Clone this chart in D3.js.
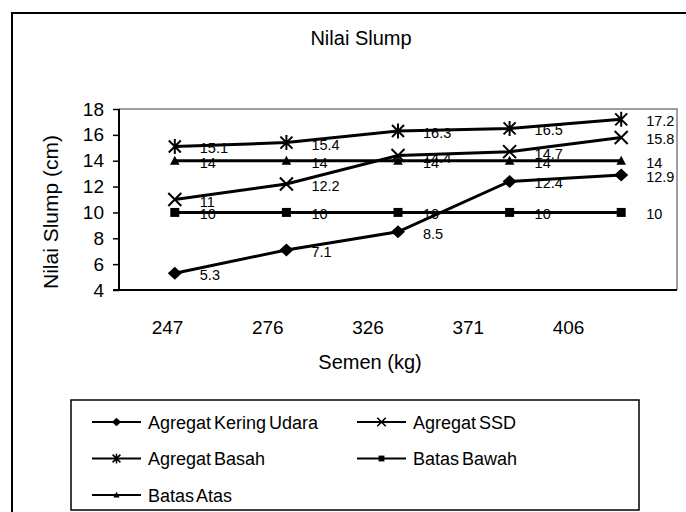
<!DOCTYPE html>
<html>
<head>
<meta charset="utf-8">
<script src="https://cdn.jsdelivr.net/npm/d3@7"></script>
<style>
  body { margin: 0; background: #fff; }
  text { font-family: "Liberation Sans", Arial, sans-serif; fill: #000; }
</style>
</head>
<body>
<div id="chart"></div>
<script>
let categories = ["247", "276", "326", "371", "406"];
let y_ticks = [4, 6, 8, 10, 12, 14, 16, 18];

let kering_udara = [5.3, 7.1, 8.5, 12.4, 12.9];
let agregat_ssd = [11, 12.2, 14.4, 14.7, 15.8];
let agregat_basah = [15.1, 15.4, 16.3, 16.5, 17.2];
let batas_bawah = [10, 10, 10, 10, 10];
let batas_atas = [14, 14, 14, 14, 14];

let series_names = ["Agregat Kering Udara", "Agregat SSD", "Agregat Basah", "Batas Bawah", "Batas Atas"];
let series_values = [kering_udara, agregat_ssd, agregat_basah, batas_bawah, batas_atas];
let series_marker = ["diamond", "times", "asterisk", "square", "triangle"];

let width = 686;
let height = 512;

let plot_left = 119, plot_right = 677, plot_top = 109, plot_bottom = 290;

// marker shapes as paths, s = scale
function marker_path(type, s) {
    if (type == "diamond") {
        return "M0," + (-6.5 * s) + "L" + (7 * s) + ",0L0," + (6.5 * s) + "L" + (-7 * s) + ",0Z";
    }
    if (type == "square") {
        return "M" + (-4.5 * s) + "," + (-4.5 * s) + "h" + (9 * s) + "v" + (9 * s) + "h" + (-9 * s) + "Z";
    }
    if (type == "triangle") {
        return "M0," + (-5 * s) + "L" + (4.8 * s) + "," + (4 * s) + "L" + (-4.8 * s) + "," + (4 * s) + "Z";
    }
    if (type == "times") {
        let h = 6.5 * s;
        return "M" + (-h) + "," + (-h) + "L" + h + "," + h + "M" + h + "," + (-h) + "L" + (-h) + "," + h;
    }
    // asterisk
    let h = 6 * s;
    return "M" + (-h) + "," + (-h) + "L" + h + "," + h + "M" + h + "," + (-h) + "L" + (-h) + "," + h +
           "M0," + (-7.5 * s) + "L0," + (7.5 * s);
}

function is_stroke_marker(type) {
    return type == "times" || type == "asterisk";
}

let svg = d3.select("#chart")
    .append("svg")
    .attr("width", width)
    .attr("height", height);

// outer frame (runs off the right and bottom edge)
svg.append("rect")
    .attr("x", 12)
    .attr("y", 13)
    .attr("width", width + 20)
    .attr("height", height + 20)
    .attr("fill", "none")
    .attr("stroke", "#000")
    .attr("stroke-width", 2);

let xScale = d3.scaleBand()
    .domain(categories)
    .range([plot_left, plot_right]);

// tick labels sit on their own spacing in the reference
let xLabelScale = d3.scalePoint()
    .domain(categories)
    .range([167, 568]);

let yScale = d3.scaleLinear()
    .domain([4, 18])
    .range([plot_bottom, plot_top]);

// plot frame: grey top / right
svg.append("path")
    .attr("d", "M" + plot_left + "," + plot_top + "H" + plot_right + "V" + plot_bottom)
    .attr("fill", "none")
    .attr("stroke", "#808080")
    .attr("stroke-width", 1.5);

let y_axis = svg.append("g")
    .attr("transform", "translate(" + plot_left + ",0)")
    .call(d3.axisLeft(yScale).tickValues(y_ticks).tickSize(6).tickPadding(9));
y_axis.select(".domain").attr("stroke", "#000").attr("stroke-width", 2).attr("d", "M0," + plot_top + "V" + plot_bottom);
y_axis.selectAll(".tick line").attr("stroke", "#000").attr("stroke-width", 1.5);
y_axis.selectAll(".tick text")
    .style("font-size", "19px")
    .style("font-family", "'Liberation Sans', Arial, sans-serif")
    .attr("fill", "#000");

svg.append("line")
    .attr("x1", plot_left - 6)
    .attr("x2", plot_right)
    .attr("y1", plot_bottom)
    .attr("y2", plot_bottom)
    .attr("stroke", "#000")
    .attr("stroke-width", 2);

let x_axis = svg.append("g")
    .attr("transform", "translate(0," + plot_bottom + ")")
    .call(d3.axisBottom(xLabelScale).tickSize(0).tickPadding(31));
x_axis.select(".domain").remove();
x_axis.selectAll(".tick text")
    .style("font-size", "19px")
    .style("font-family", "'Liberation Sans', Arial, sans-serif")
    .attr("fill", "#000");

// lines + markers
let line = d3.line()
    .x(function(d, i) { return xScale(categories[i]) + xScale.bandwidth() / 2; })
    .y(function(d) { return yScale(d); });

let chart = svg.append("g");

series_values.forEach(function(vals, si) {
    chart.append("path")
        .attr("d", line(vals))
        .attr("fill", "none")
        .attr("stroke", "#000")
        .attr("stroke-width", 3);
});

series_values.forEach(function(vals, si) {
    let type = series_marker[si];
    chart.selectAll(".m" + si)
        .data(vals)
        .enter()
        .append("path")
        .attr("class", "m" + si)
        .attr("transform", function(d, i) {
            return "translate(" + (xScale(categories[i]) + xScale.bandwidth() / 2) + "," + yScale(d) + ")";
        })
        .attr("d", marker_path(type, 1))
        .attr("fill", is_stroke_marker(type) ? "none" : "#000")
        .attr("stroke", "#000")
        .attr("stroke-width", is_stroke_marker(type) ? 2 : 0);
});

series_values.forEach(function(vals, si) {
    chart.selectAll(".l" + si)
        .data(vals)
        .enter()
        .append("text")
        .attr("class", "l" + si)
        .attr("x", function(d, i) { return xScale(categories[i]) + xScale.bandwidth() / 2 + 25; })
        .attr("y", function(d) { return yScale(d) + 7; })
        .style("font-size", "14.5px")
        .text(function(d) { return d; });
});

// titles
svg.append("text")
    .attr("x", 361)
    .attr("y", 45)
    .attr("text-anchor", "middle")
    .style("font-size", "20px")
    .text("Nilai Slump");

svg.append("text")
    .attr("x", 370)
    .attr("y", 369)
    .attr("text-anchor", "middle")
    .style("font-size", "20px")
    .text("Semen (kg)");

svg.append("text")
    .attr("transform", "translate(58,212) rotate(-90)")
    .attr("text-anchor", "middle")
    .style("font-size", "21px")
    .text("Nilai Slump (cm)");

// legend
svg.append("rect")
    .attr("x", 71)
    .attr("y", 400)
    .attr("width", 568)
    .attr("height", 110)
    .attr("fill", "none")
    .attr("stroke", "#000")
    .attr("stroke-width", 1.5);

let legend = svg.selectAll(".legend")
    .data(series_names)
    .enter()
    .append("g")
    .attr("class", "legend")
    .attr("transform", function(d, i) {
        return "translate(" + (i % 2 == 0 ? 92 : 357) + "," + (422 + Math.floor(i / 2) * 36.5) + ")";
    });

legend.append("line")
    .attr("x1", 0)
    .attr("x2", 49)
    .attr("y1", 0)
    .attr("y2", 0)
    .attr("stroke", "#000")
    .attr("stroke-width", 2);

legend.append("path")
    .attr("transform", "translate(24.5,0)")
    .attr("d", function(d, i) { return marker_path(series_marker[i], 0.65); })
    .attr("fill", function(d, i) { return is_stroke_marker(series_marker[i]) ? "none" : "#000"; })
    .attr("stroke", "#000")
    .attr("stroke-width", function(d, i) { return is_stroke_marker(series_marker[i]) ? 1.6 : 0; });

legend.append("text")
    .attr("x", 56)
    .attr("y", 6.5)
    .style("font-size", "18px")
    .style("word-spacing", "-2px")
    .text(function(d) { return d; });
</script>
</body>
</html>
